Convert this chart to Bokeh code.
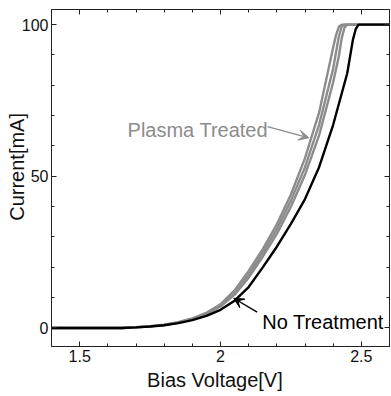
from bokeh.plotting import figure
from bokeh.models import (Range1d, FixedTicker, LinearAxis, Label, Arrow,
                          VeeHead, CustomJSTickFormatter)
from bokeh.embed import file_html
from bokeh.resources import INLINE

# ---- data ----
no_treat_v = [1.40, 1.65, 1.70, 1.75, 1.80, 1.85, 1.90, 1.95, 2.00, 2.05, 2.10,
              2.15, 2.20, 2.25, 2.30, 2.35, 2.40, 2.45, 2.47, 2.48, 2.49, 2.60]
no_treat_i = [0, 0, 0.2, 0.5, 0.9, 1.6, 2.6, 4.0, 6.0, 9.0, 13.5,
              20.0, 26.8, 34.3, 42.5, 53.0, 67.0, 84.0, 95.0, 98.5, 100, 100]

plasma1_v = [1.40, 1.65, 1.70, 1.75, 1.80, 1.85, 1.90, 1.95, 2.00, 2.05, 2.10,
             2.15, 2.20, 2.25, 2.30, 2.35, 2.40, 2.41, 2.42, 2.43, 2.60]
plasma1_i = [0, 0, 0.3, 0.6, 1.1, 1.9, 3.2, 5.0, 7.8, 12.4, 18.8,
             26.0, 34.2, 44.0, 56.0, 71.0, 92.5, 96.5, 99.3, 100, 100]

plasma2_v = [1.40, 1.65, 1.70, 1.75, 1.80, 1.85, 1.90, 1.95, 2.00, 2.05, 2.10,
             2.15, 2.20, 2.25, 2.30, 2.35, 2.40, 2.42, 2.43, 2.44, 2.60]
plasma2_i = [0, 0, 0.25, 0.55, 1.0, 1.85, 3.05, 4.8, 7.4, 11.5, 17.5,
             24.8, 32.6, 42.0, 53.0, 67.0, 85.5, 96.0, 99.3, 100, 100]

plasma3_v = [1.40, 1.65, 1.70, 1.75, 1.80, 1.85, 1.90, 1.95, 2.00, 2.05, 2.10,
             2.15, 2.20, 2.25, 2.30, 2.35, 2.40, 2.42, 2.43, 2.44, 2.45, 2.60]
plasma3_i = [0, 0, 0.22, 0.52, 0.98, 1.72, 2.95, 4.6, 7.1, 11.0, 16.6,
             23.5, 31.0, 40.0, 50.5, 63.5, 81.0, 89.5, 95.4, 99.0, 100, 100]

x_major = [1.5, 2.0, 2.5]
x_minor = [1.4, 1.5, 1.6, 1.7, 1.8, 1.9, 2.0, 2.1, 2.2, 2.3, 2.4, 2.5, 2.6]
y_major = [0, 50, 100]
y_minor = [0, 10, 20, 30, 40, 50, 60, 70, 80, 90, 100]

NB = "\u00a0"
x_title = "Bias Voltage[V]"
y_title = "Current[mA]"
label_plasma = "Plasma Treated"
label_none = "No Treatment"

FONT = "Liberation Sans"
GRAY = "#8c8c8c"
AXC = "#222222"
TXT = "#111111"

p = figure(width=391, height=396, x_range=Range1d(1.4, 2.6),
           y_range=Range1d(-6.1, 105), output_backend="svg",
           toolbar_location=None, min_border_left=51, min_border_right=2,
           min_border_top=9, min_border_bottom=50)
p.grid.visible = False
p.outline_line_color = AXC
p.background_fill_color = "white"
p.border_fill_color = "white"

fmt = CustomJSTickFormatter(code="return tick.toString();")
blank = CustomJSTickFormatter(code="return '';")


def style(ax, major, minor, show):
    ax.ticker = FixedTicker(ticks=major, minor_ticks=minor)
    ax.major_tick_in = 5
    ax.major_tick_out = 0
    ax.minor_tick_in = 3
    ax.minor_tick_out = 0
    ax.axis_line_color = AXC
    ax.major_tick_line_color = AXC
    ax.minor_tick_line_color = AXC
    ax.major_label_text_font = FONT
    ax.major_label_text_color = TXT
    ax.axis_label_text_font = FONT
    ax.axis_label_text_font_style = "normal"
    ax.axis_label_text_font_size = "20px"
    ax.axis_label_text_color = TXT
    if show:
        ax.formatter = fmt
        ax.major_label_text_font_size = "16px"
        ax.major_label_standoff = 3
    else:
        ax.formatter = blank
        ax.major_label_text_font_size = "1px"
        ax.major_label_standoff = 0


xa = p.xaxis[0]
ya = p.yaxis[0]
style(xa, x_major, x_minor, True)
style(ya, y_major, y_minor, True)
xa.axis_label = x_title + NB + NB
xa.axis_label_standoff = 4
ya.axis_label = NB * 4 + y_title
ya.axis_label_standoff = -9

top = LinearAxis()
style(top, x_major, x_minor, False)
p.add_layout(top, "above")
right = LinearAxis()
style(right, y_major, y_minor, False)
p.add_layout(right, "right")

for xs, ys in [(plasma1_v, plasma1_i), (plasma2_v, plasma2_i), (plasma3_v, plasma3_i)]:
    p.line(xs, ys, line_color=GRAY, line_width=2.4)
p.line(no_treat_v, no_treat_i, line_color="black", line_width=2.4)

p.add_layout(Label(x=1.670, y=65.3, text=label_plasma, text_font=FONT,
                   text_font_size="20px", text_color=GRAY,
                   text_baseline="alphabetic", text_align="left"))
p.add_layout(Arrow(x_start=2.167, y_start=66.4, x_end=2.3135, y_end=62.7,
                   line_color=GRAY, line_width=1.4,
                   end=VeeHead(size=10, fill_color=GRAY, line_color=GRAY)))
p.add_layout(Label(x=2.148, y=1.9, text=label_none, text_font=FONT,
                   text_font_size="20px", text_color="black",
                   text_baseline="alphabetic", text_align="left"))
p.add_layout(Arrow(x_start=2.130, y_start=5.2, x_end=2.047, y_end=9.8,
                   line_color="black", line_width=1.4,
                   end=VeeHead(size=10, fill_color="black", line_color="black")))

open("out.html", "w").write(file_html(p, INLINE))
